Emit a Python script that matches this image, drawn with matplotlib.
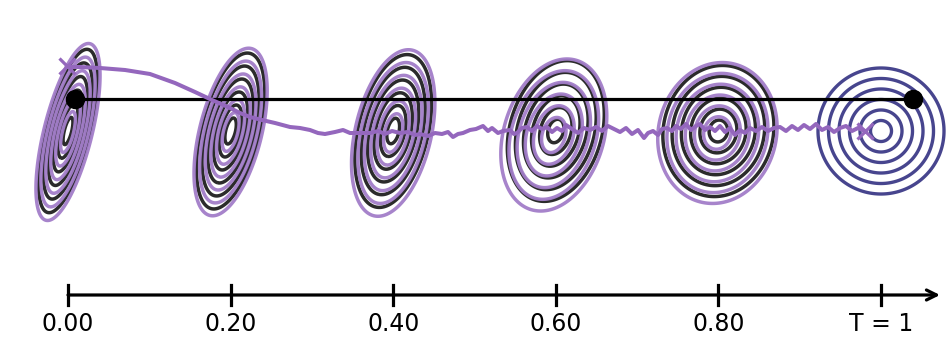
import numpy as np
import matplotlib.pyplot as plt

# time grid of the marginals (one unit of time = 813 drawing units)
times = [0.0, 0.2, 0.4, 0.6, 0.8, 1.0]
tick_labels = ["0.00", "0.20", "0.40", "0.60", "0.80", "T = 1"]
SPAN = 813

# outer contour semi-axes (major, minor) and tilt from vertical, per time
true_major = [84, 80, 78, 72, 66]
true_minor = [22, 29, 35, 46, 55]
true_tilt = [14, 14, 13, 16, 12]
learn_major = [91, 86, 85, 78, 71]
learn_minor = [24, 31, 38, 50, 59]
learn_tilt = [14, 14, 13, 17, 13]
learn_dx = [0, 0, 0, -2, -1]
learn_dy = [-1, -1, -2, -4, -2]
prior_radius = 63
true_rings = [1, 2, 3, 4, 5, 6]
learn_rings = [1.5, 2.5, 3.5, 4.5, 5.5, 6.5]

# bridge endpoints
bridge_x = [7, 845]
bridge_y = [32, 32]

# one sampled trajectory
traj_x = [-1, 4, 12, 32, 57, 82, 107, 127, 144, 160, 172, 182, 194, 207, 222, 232,
          242, 250, 257, 267, 275, 282, 295, 302, 310, 317, 324, 332, 340, 347, 352,
          360, 367, 374, 380, 385, 390, 395, 402, 408, 415, 420, 424, 430, 435, 442,
          446, 449, 454, 459, 464, 469, 474, 479, 484, 489, 494, 498, 504, 510, 516,
          522, 528, 534, 540, 546, 552, 558, 564, 570, 576, 580, 585, 590, 594, 599,
          604, 608, 613, 618, 623, 628, 632, 637, 642, 647, 652, 657, 662, 667, 672,
          677, 682, 688, 694, 700, 706, 712, 718, 724, 730, 736, 742, 748, 754, 760,
          766, 772, 778, 784, 790, 797]
traj_y = [65, 64, 64, 63, 61, 57, 48, 39, 31, 24, 18, 14, 11, 8, 4, 3,
          1, -2, -3, -1, 1, -2, -2, -2, 0, -3, 0, -2, -1, -4, -3,
          -5, -2, -3, -1, -6, -3, -2, 1, 2, 5, 0, 3, -2, 0, 1,
          -3, -2, 3, 4, 0, 5, 2, 4, -1, 3, 0, 6, 2, -2, 3,
          1, 4, 0, 5, 2, -1, 3, -3, 1, -7, -2, 0, -4, 2, 3,
          0, 5, 2, 7, 1, 5, 7, 1, 4, 0, 5, -1, 3, -4, 1,
          -2, 3, 0, 4, 0, 3, 4, 0, 5, 1, 6, 2, 7, 1, 4,
          -1, 3, 5, 0, 3, 0]

TRUE_C = "#2b2b2b"
LEARN_C = "#a27dc9"
TRAJ_C = "#9467bd"
PRIOR_C = "#47458e"


def gauss_rings(ax, cx, cy, major, minor, tilt, levels, color, lw, alpha=1.0):
    th = np.deg2rad(tilt)
    xs = np.linspace(cx - 110, cx + 110, 500)
    ys = np.linspace(cy - 110, cy + 110, 500)
    X, Y = np.meshgrid(xs, ys)
    dx, dy = X - cx, Y - cy
    along = dx * np.sin(th) + dy * np.cos(th)
    across = dx * np.cos(th) - dy * np.sin(th)
    s_a, s_b = major / levels[-1], minor / levels[-1]
    m = np.sqrt((along / s_a) ** 2 + (across / s_b) ** 2)
    ax.contour(X, Y, m, levels=levels, colors=color, linewidths=lw, alpha=alpha)


fig = plt.figure(figsize=(9.48, 3.62), dpi=100)
ax = fig.add_axes([0, 0, 1, 1])
ax.set_xlim(-68, 880)
ax.set_ylim(-231, 131)
ax.set_aspect("equal")
ax.axis("off")

for i, t in enumerate(times[:-1]):
    cx = t * SPAN
    gauss_rings(ax, cx, 0, true_major[i], true_minor[i], true_tilt[i],
                true_rings, TRUE_C, 2.5)
    gauss_rings(ax, cx + learn_dx[i], learn_dy[i], learn_major[i], learn_minor[i],
                learn_tilt[i], learn_rings, LEARN_C, 2.5, alpha=0.95)

gauss_rings(ax, times[-1] * SPAN, 0, prior_radius, prior_radius, 0,
            true_rings, PRIOR_C, 2.4)

# bridge line and endpoints
ax.plot(bridge_x, bridge_y, color="black", lw=2.3, zorder=5)
ax.plot(bridge_x, bridge_y, "o", color="black", ms=13, zorder=6)

# trajectory
ax.plot(traj_x, traj_y, color=TRAJ_C, lw=2.9, zorder=7, solid_joinstyle="round")
ax.plot([traj_x[0], traj_x[-1]], [traj_y[0], traj_y[-1]], "x", color=TRAJ_C,
        ms=12, mew=2.3, zorder=8)

# time axis
axis_y = -164
ax.annotate("", xy=(872, axis_y), xytext=(0, axis_y),
            arrowprops=dict(arrowstyle="->", lw=2.3, color="black",
                            shrinkA=0, shrinkB=0, mutation_scale=18))
for t, lab in zip(times, tick_labels):
    ax.plot([t * SPAN, t * SPAN], [axis_y - 10, axis_y + 10], color="black", lw=2.3)
    ax.text(t * SPAN, axis_y - 29, lab, ha="center", va="center", fontsize=17,
            family="DejaVu Sans")

fig.savefig("out.png", dpi=100)
